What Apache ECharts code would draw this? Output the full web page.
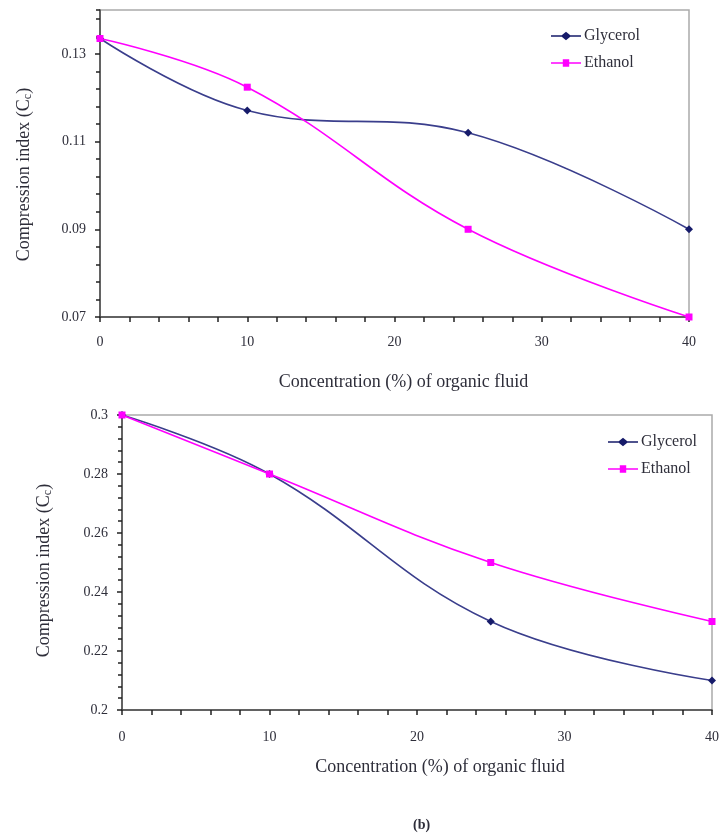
<!DOCTYPE html>
<html><head><meta charset="utf-8">
<script src="https://cdn.jsdelivr.net/npm/echarts@6/dist/echarts.min.js"></script>
<style>html,body{margin:0;padding:0;background:#fff}#c{width:722px;height:838px}</style>
</head><body><div id="c"></div>
<script>
var concentrations = [0, 10, 25, 40];
var glycerolA = [0.1335, 0.1171, 0.1120, 0.0900];
var ethanolA  = [0.1335, 0.1224, 0.0900, 0.0700];
var glycerolB = [0.300, 0.280, 0.230, 0.210];
var ethanolB  = [0.300, 0.280, 0.250, 0.230];
var xTicks = [0, 10, 20, 30, 40];
var yTicksA = [0.07, 0.09, 0.11, 0.13];
var yTicksB = [0.2, 0.22, 0.24, 0.26, 0.28, 0.3];
var xTitle = 'Concentration (%) of organic fluid';
var yTitle = 'Compression index (C{s|c})';
var panelLabel = '(b)';

function pairs(xs, ys){ return xs.map(function(x,i){ return [x, ys[i]]; }); }

var FONT = '"Liberation Serif", "DejaVu Serif", serif';
var NAVY_LINE = '#3a3e8c';
var NAVY_MARK = '#161b6a';
var MAG = '#ff00ff';
var TXT = '#2e2e3a';

function xAxis(gi, gap, pad, margin){
  return {
    type:'value', gridIndex:gi, min:xTicks[0], max:xTicks[xTicks.length-1], interval:10,
    name:xTitle, nameLocation:'middle', nameGap:gap,
    nameTextStyle:{fontFamily:FONT, fontSize:18, color:TXT, padding:pad},
    axisLine:{lineStyle:{color:'#444', width:1.5}},
    axisTick:{show:true, length:5, lineStyle:{color:'#222', width:1.5}},
    minorTick:{show:true, splitNumber:5, length:5, lineStyle:{color:'#222', width:1.5}},
    axisLabel:{fontFamily:FONT, fontSize:14, color:TXT, margin:margin},
    splitLine:{show:false}
  };
}
function yAxis(gi, mn, mx, gap, pad, minorOwn){
  return {
    type:'value', gridIndex:gi, min:mn, max:mx, interval:0.02, position:'left',
    name:yTitle, nameLocation:'middle', nameGap:gap,
    nameTextStyle:{fontFamily:FONT, fontSize:18, color:TXT, padding:pad,
      rich:{s:{fontFamily:FONT, fontSize:12, color:TXT, verticalAlign:'bottom', padding:[7,0,0,0]}}},
    axisLine:{lineStyle:{color:'#444', width:1.5}},
    axisTick:{show:true, length:5, lineStyle:{color:'#222', width:1.5}},
    minorTick:{show:minorOwn, splitNumber:5, length:4, lineStyle:{color:'#222', width:1.5}},
    axisLabel:{fontFamily:FONT, fontSize:14, color:TXT, margin:14, showMaxLabel: mx===0.3,
      formatter:function(v){ return String(Math.round(v*1000)/1000); }},
    splitLine:{show:false}
  };
}
function minorYAxis(gi, mn, mx){
  return {
    type:'value', gridIndex:gi, min:mn, max:mx, interval:0.004, position:'left', offset:0,
    axisLine:{show:false}, axisLabel:{show:false}, splitLine:{show:false},
    axisTick:{show:true, length:4, lineStyle:{color:'#222', width:1.5}}
  };
}
function series(name, data, gi, color, mark, sym, size){
  return {
    type:'line', name:name, xAxisIndex:gi, yAxisIndex:gi, data:data, smooth:0.4,
    symbol:sym, symbolSize:size, showSymbol:true,
    lineStyle:{color:color, width:1.6}, itemStyle:{color:mark},
    emphasis:{disabled:true}
  };
}
var ICON_G = 'path://M0 3.3 L10 3.3 L14 0 L18 3.3 L28 3.3 L28 4.7 L18 4.7 L14 8 L10 4.7 L0 4.7 Z';
var ICON_E = 'path://M0 3.3 L11 3.3 L11 0.6 L17 0.6 L17 3.3 L28 3.3 L28 4.7 L17 4.7 L17 7.4 L11 7.4 L11 4.7 L0 4.7 Z';
function legend(top, left){
  return {
    top:top, left:left, orient:'vertical', itemGap:11, itemWidth:30, itemHeight:9,
    textStyle:{fontFamily:FONT, fontSize:16, color:TXT, padding:[0,0,0,-2]},
    data:[{name:'Glycerol', icon:ICON_G, itemStyle:{color:NAVY_MARK}},
          {name:'Ethanol', icon:ICON_E, itemStyle:{color:MAG}}]
  };
}

var chart = echarts.init(document.getElementById('c'), null, {renderer:'canvas'});
chart.setOption({
  animation:false,
  backgroundColor:'#fff',
  title:{text:panelLabel, left:408, top:813, textStyle:{fontFamily:FONT, fontSize:14, fontWeight:'bold', color:TXT}},
  grid:[
    {left:100, top:10, width:589, height:307, show:true, borderColor:'#aaa', borderWidth:1.5},
    {left:122, top:415, width:592, height:295, show:true, borderColor:'#aaa', borderWidth:1.5}
  ],
  xAxis:[xAxis(0, 56, [0,0,0,18], 18), xAxis(1, 48, [0,0,0,46], 20)],
  yAxis:[yAxis(0, 0.07, 0.14, 66, [0,0,0,-22], false), yAxis(1, 0.2, 0.3, 68, [0,0,0,-16], true),
         minorYAxis(0, 0.07, 0.14)],
  legend:[legend(23, 546), legend(429, 603)],
  series:[
    series('Glycerol', pairs(concentrations, glycerolA), 0, NAVY_LINE, NAVY_MARK, 'diamond', 8),
    series('Ethanol', pairs(concentrations, ethanolA), 0, MAG, MAG, 'rect', 7),
    series('Glycerol', pairs(concentrations, glycerolB), 1, NAVY_LINE, NAVY_MARK, 'diamond', 8),
    series('Ethanol', pairs(concentrations, ethanolB), 1, MAG, MAG, 'rect', 7)
  ]
});
</script></body></html>
